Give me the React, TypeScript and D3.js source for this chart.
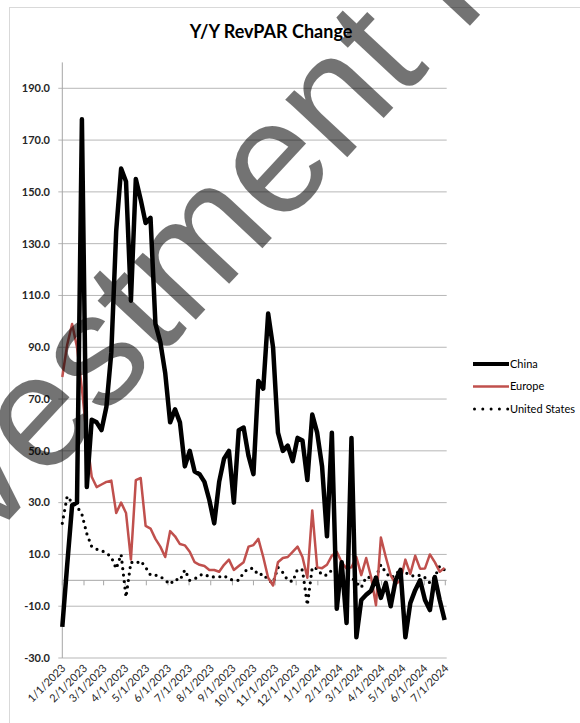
import React from 'react';
import * as d3 from 'd3';

// weekly readings, first week 1/1/2023
const weekStart = new Date(2023, 0, 1);
const weekStop = new Date(2024, 6, 1);

const chinaValues = [
  -18, 6, 29, 30, 178, 36, 62, 61, 58, 67, 88, 135, 159, 154, 108, 155, 147, 138, 140, 99,
  92, 80, 61, 66, 61, 44, 50, 42, 41, 38, 31, 22, 38, 47, 50, 30, 58, 59, 48, 41,
  77, 74, 103, 90, 57, 50, 52, 46, 55, 54, 38.7, 64, 57, 44, 17, 57, -11, 7, -16.5, 55,
  -22, -7.6, -5.6, -4, 1, -6.8, -1, -10, 0, 4, -22, -8.8, -3.8, 0, -7.6, -11.5, 1.3, -7.6, -15.3,
];

const europeValues = [
  78.5, 91, 99, 90, 74, 55, 40, 36, 37, 38, 38.5, 26, 30, 26, 8, 38.7, 39.5, 21, 20, 16,
  13, 9, 19, 17, 14, 13.5, 11, 7, 6, 5.5, 4, 4, 3.3, 6, 8, 4, 5.5, 7, 13, 13.6,
  16, 9, 1, -2, 7, 8.6, 9, 11, 13, 9, 1, 27, 5, 4.7, 6, 9.5, 11, 7, 4.6, 5,
  9, 2, 8.6, 1.3, -9.6, 16.5, 9, 2, -1.5, 0, 8, 2.5, 9.5, 4.5, 4.6, 10, 7, 3.3, 4.8,
];

const usValues = [
  22, 32.5, 30, 28.5, 25.5, 18, 13, 12, 11.5, 10.5, 9, 4.5, 10, -6.5, 7, 6.5, 7.5, 5, 2, 2,
  1.5, 0, -1.5, 0.5, 0, 4, 0, 0.5, 2, 2.4, 1.3, 1.3, 1.3, 1.8, 0.5, 0, 0, 3, 4.6, 4.6,
  2, 2.5, 0, -1, 5, 3, 0, -0.5, 4.3, 4, -9.6, 5, 4.5, 2, 2, 4, 2.8, 2, 1.3, 1.3,
  -1, -2.8, 1.3, 1, 1.3, 6, 3, 1, 2, 4.6, 3, 2, 1.5, 2, 1, -1, 1.3, 5.5, 4,
];

const yTicks = [-30, -10, 10, 30, 50, 70, 90, 110, 130, 150, 170, 190];
const seriesNames = ['China', 'Europe', 'United States'];

const W = 580;
const H = 723;
const font = 'Lato, "Liberation Sans", sans-serif';

export default function App() {
  const weeks = d3.timeWeek.range(weekStart, weekStop);
  const months = d3.timeMonth.range(weekStart, new Date(2024, 6, 2));

  const x = d3.scaleTime()
    .domain([weekStart, new Date(2024, 6, 3)])
    .range([62.3, 446.7]);
  const y = d3.scaleLinear().domain([-30, 200]).range([658, 62.4]);

  const line = d3.line<number>()
    .x((_, i) => x(weeks[i]))
    .y((d) => y(d));

  const fmt = d3.timeFormat('%-m/%-d/%Y');
  const [x0, x1] = x.range();

  return (
    <svg width={W} height={H} style={{ position: 'absolute', left: 0, top: 0, display: 'block' }}>
      <rect x={0} y={0} width={W} height={H} fill="#fff" />
      <rect x={9.5} y={7.5} width={700} height={800} fill="none" stroke="#d9d9d9" />

      <text x={271} y={38} textAnchor="middle" fontFamily={font} fontWeight="bold" fontSize={18} fill="#000">
        Y/Y RevPAR Change
      </text>

      {/* gridlines */}
      {yTicks.map((t) => (
        <g key={t}>
          <line x1={x0 - 4} x2={x1} y1={y(t)} y2={y(t)} stroke="#b7b7b7" strokeWidth={1} />
          <text x={50} y={y(t)} dy="0.35em" textAnchor="end" fontFamily={font} fontWeight="bold"
            fontSize={11} fill="#262626">
            {t.toFixed(1)}
          </text>
        </g>
      ))}
      <line x1={x0} x2={x0} y1={y(200)} y2={y(-30)} stroke="#a6a6a6" strokeWidth={1} />

      {/* zero axis with month ticks */}
      <line x1={x0} x2={x1} y1={y(0)} y2={y(0)} stroke="#a6a6a6" strokeWidth={1} />
      {months.map((m) => (
        <line key={+m} x1={x(m)} x2={x(m)} y1={y(0)} y2={y(0) + 5} stroke="#a6a6a6" />
      ))}
      {months.map((m) => (
        <text key={'l' + +m} transform={`translate(${x(m) + 4},${y(-30) + 11}) rotate(-45)`}
          textAnchor="end" fontFamily={font} fontSize={11} fill="#262626">
          {fmt(m)}
        </text>
      ))}

      {/* series */}
      <path d={line(usValues) || ''} fill="none" stroke="#000" strokeWidth={3.2}
        strokeDasharray="0 6.5" strokeLinecap="round" />
      <path d={line(europeValues) || ''} fill="none" stroke="#c0504d" strokeWidth={2.5}
        strokeLinejoin="round" />
      <path d={line(chinaValues) || ''} fill="none" stroke="#000" strokeWidth={4.5}
        strokeLinejoin="round" />

      {/* legend */}
      {seriesNames.map((name, i) => {
        const ly = 364 + i * 22.5;
        return (
          <g key={name}>
            {i === 0 && <line x1={473} x2={509} y1={ly} y2={ly} stroke="#000" strokeWidth={4} />}
            {i === 1 && <line x1={473} x2={509} y1={ly} y2={ly} stroke="#c0504d" strokeWidth={2.5} />}
            {i === 2 && (
              <line x1={474.5} x2={508} y1={ly} y2={ly} stroke="#000" strokeWidth={3}
                strokeDasharray="0 8.3" strokeLinecap="round" />
            )}
            <text x={510} y={ly} dy="0.35em" fontFamily={font} fontSize={11} fill="#000">
              {name}
            </text>
          </g>
        );
      })}

      {/* watermark */}
      <text transform="translate(-103,640) rotate(-47)" fontFamily='"Liberation Sans", Arial, sans-serif'
        fontSize={160} fill="#000" fillOpacity={0.55}>
        Investment Research
      </text>
    </svg>
  );
}
